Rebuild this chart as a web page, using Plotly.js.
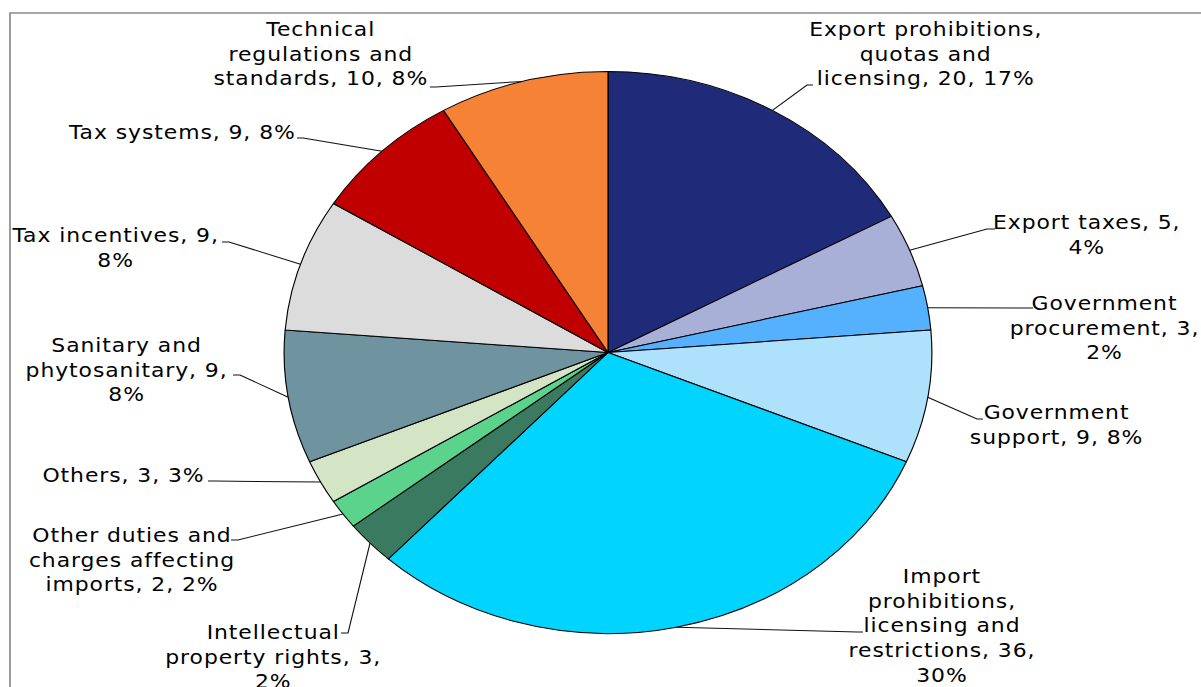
<!DOCTYPE html>
<html>
<head>
<meta charset="utf-8">
<script src="https://cdn.plot.ly/plotly-3.0.1.min.js"></script>
<style>
  html, body { margin: 0; padding: 0; background: #fff; overflow: hidden; }
  #chart { width: 1042px; height: 687px; transform-origin: 0 0; transform: scaleX(1.15259); }
  #chart .annotation-text { letter-spacing: 0.8px; }
</style>
</head>
<body>
<div id="chart"></div>
<script>
// ---- data ----
const categories = [
  "Export prohibitions, quotas and licensing",
  "Export taxes",
  "Government procurement",
  "Government support",
  "Import prohibitions, licensing and restrictions",
  "Intellectual property rights",
  "Other duties and charges affecting imports",
  "Others",
  "Sanitary and phytosanitary",
  "Tax incentives",
  "Tax systems",
  "Technical regulations and standards"
];
const counts = [20, 5, 3, 9, 36, 3, 2, 3, 9, 9, 9, 10];
const percents = [17, 4, 2, 8, 30, 2, 2, 3, 8, 8, 8, 8];
const colors = ["#1f2a78", "#a8b0d8", "#55b1fe", "#aee1fb", "#00d4ff", "#3a7a60",
                "#5cd38c", "#d4e5c5", "#6f939f", "#dcdcdc", "#c00000", "#f58235"];

// ---- layout helpers (positions in reference pixels) ----
const S = 1201 / 1042, W = 1042, H = 687;
const CX = 608 / S, CY = 352.5, R = 281;
const px = x => x / S / W;
const py = y => 1 - y / H;

// label block centre [x, y], wrap width, leader bend [x, y], leader end x
const labelCfg = [
  {c: [925, 53.5],  wrap: 20, bend: [807, 85],  end: 813},
  {c: [1087, 234],  wrap: 16, bend: [987, 229], end: 995},
  {c: [1105, 327],  wrap: 15, bend: [1027, 308], end: 1033},
  {c: [1056, 424],  wrap: 14, bend: [977, 419], end: 983},
  {c: [942, 625.5], wrap: 17, bend: [857, 632], end: 863},
  {c: [273, 656],   wrap: 19, bend: [348, 633], end: 341},
  {c: [132, 559],   wrap: 17, bend: [238, 540], end: 231},
  {c: [123, 475],   wrap: 20, bend: [214, 481], end: 208},
  {c: [127, 369],   wrap: 17, bend: [240, 375], end: 233},
  {c: [115, 247],   wrap: 18, bend: [229, 242], end: 222},
  {c: [182, 132],   wrap: 20, bend: [303, 138], end: 297},
  {c: [321, 53.5],  wrap: 17, bend: [436, 87],  end: 430}
];

function wrapText(str, width) {
  const words = str.split(" ");
  const lines = [];
  let cur = "";
  for (const w of words) {
    if (cur === "") cur = w;
    else if ((cur + " " + w).length <= width) cur += " " + w;
    else { lines.push(cur); cur = w; }
  }
  if (cur) lines.push(cur);
  return lines.join("<br>");
}

const total = counts.reduce((a, b) => a + b, 0);
const annotations = [];
const shapes = [];
let cum = 0;
categories.forEach((name, i) => {
  const cfg = labelCfg[i];
  const text = wrapText(name + ", " + counts[i] + ", " + percents[i] + "%", cfg.wrap);
  annotations.push({
    xref: "paper", yref: "paper", x: px(cfg.c[0]), y: py(cfg.c[1]),
    xanchor: "center", yanchor: "middle", align: "center", showarrow: false,
    text: text, font: {family: "DejaVu Sans, Verdana, sans-serif", size: 19, color: "#000"}
  });
  const theta = 2 * Math.PI * (cum + counts[i] / 2) / total;
  cum += counts[i];
  const sx = (CX + R * Math.sin(theta)) / W;
  const sy = 1 - (CY - R * Math.cos(theta)) / H;
  shapes.push({
    type: "path", xref: "paper", yref: "paper",
    path: "M" + sx + "," + sy + " L" + px(cfg.bend[0]) + "," + py(cfg.bend[1]) +
          " L" + px(cfg.end) + "," + py(cfg.bend[1]),
    line: {color: "#111", width: 1}
  });
});

// chart border
shapes.unshift({
  type: "rect", xref: "paper", yref: "paper",
  x0: px(10), x1: 1.02, y0: -0.02, y1: py(13),
  line: {color: "#8c8c8c", width: 1.5}, fillcolor: "rgba(0,0,0,0)", layer: "below"
});

const trace = {
  type: "pie",
  labels: categories,
  values: counts,
  sort: false,
  direction: "clockwise",
  rotation: 0,
  textinfo: "none",
  hoverinfo: "label+value+percent",
  marker: {colors: colors, line: {color: "#000", width: 1}},
  domain: {x: [(CX - R) / W, (CX + R) / W], y: [1 - (CY + R) / H, 1 - (CY - R) / H]},
  showlegend: false
};

const layout = {
  width: W, height: H,
  margin: {l: 0, r: 0, t: 0, b: 0},
  paper_bgcolor: "#fff",
  showlegend: false,
  annotations: annotations,
  shapes: shapes
};

Plotly.newPlot("chart", [trace], layout, {displayModeBar: false, responsive: false});
</script>
</body>
</html>
